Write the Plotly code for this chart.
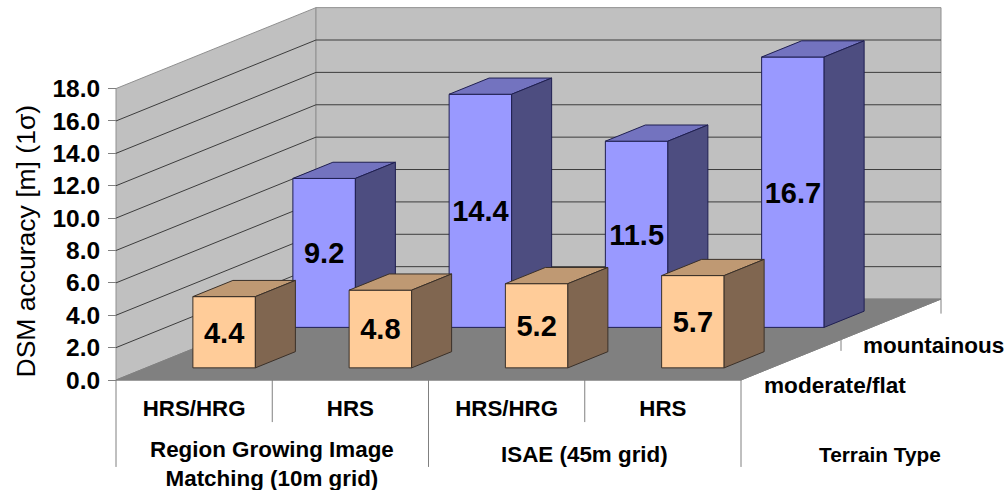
import plotly.graph_objects as go

methods = ["HRS/HRG", "HRS", "HRS/HRG", "HRS"]
moderate_flat = [4.4, 4.8, 5.2, 5.7]
mountainous = [9.2, 14.4, 11.5, 16.7]
y_ticks = [0, 2, 4, 6, 8, 10, 12, 14, 16, 18]
group_labels = ["Region Growing Image<br>Matching (10m grid)", "ISAE (45m grid)", "Terrain Type"]
depth_labels = ["moderate/flat", "mountainous"]

W, H = 1007, 490
X0, CAT = 116.0, 156.25      # pixel of category origin, pixels per category
Y0, UNIT = 380.0, 16.19      # pixel of value 0, pixels per value unit
DX, DY = 1.28, 5.0           # depth vector of the whole floor, in axis units
BAR_W, BAR_D = 0.40, 0.20
FONT = "Liberation Sans"
VMAX = y_ticks[-1]
N = len(methods)


def p(x, v, d):
    return x + DX * d, v + DY * d


def poly(pts, fill, line, width=1):
    xs, ys = zip(*[p(*q) for q in pts])
    return go.Scatter(x=list(xs) + [xs[0]], y=list(ys) + [ys[0]], mode="lines", fill="toself",
                      fillcolor=fill, line=dict(color=line, width=width), hoverinfo="skip")


def seg(pts, color, width=1):
    xs, ys = zip(*[p(*q) for q in pts])
    return go.Scatter(x=list(xs), y=list(ys), mode="lines", line=dict(color=color, width=width), hoverinfo="skip")


traces = []
# walls and floor
traces.append(poly([(0, 0, 0), (0, VMAX, 0), (0, VMAX, 1), (0, 0, 1)], "#C0C0C0", "#909090"))
traces.append(poly([(0, 0, 1), (0, VMAX, 1), (N, VMAX, 1), (N, 0, 1)], "#C0C0C0", "#909090"))
traces.append(poly([(0, 0, 0), (N, 0, 0), (N, 0, 1), (0, 0, 1)], "#808080", "#808080"))
# gridlines
for v in y_ticks[1:-1]:
    traces.append(seg([(0, v, 0), (0, v, 1), (N, v, 1)], "#3C3C3C", 1))
# frame lines below the floor
for i in range(N + 1):
    bottom = -5.37 if i % 2 == 0 else -2.6
    traces.append(seg([(i, 0, 0), (i, bottom, 0)], "#808080", 1))
traces.append(seg([(0, 0, 0), (N, 0, 0), (N, 0, 1), (N, -0.9, 1)], "#808080", 1))
traces.append(seg([(N, 0, 0.5), (N, -0.7, 0.5)], "#808080", 1))


def bar(i, value, depth, front, top, side, edge):
    x1, x2 = i + 0.5 - BAR_W / 2, i + 0.5 + BAR_W / 2
    d1, d2 = depth - BAR_D / 2, depth + BAR_D / 2
    traces.append(poly([(x1, 0, d1), (x2, 0, d1), (x2, value, d1), (x1, value, d1)], front, edge))
    traces.append(poly([(x1, value, d1), (x2, value, d1), (x2, value, d2), (x1, value, d2)], top, edge))
    traces.append(poly([(x2, 0, d1), (x2, 0, d2), (x2, value, d2), (x2, value, d1)], side, edge))


for i, v in enumerate(mountainous):
    bar(i, v, 0.75, "#9999FF", "#7373BF", "#4D4D80", "#1F1F50")
for i, v in enumerate(moderate_flat):
    bar(i, v, 0.25, "#FFCC99", "#BF9973", "#806650", "#3A3028")

# value labels, just below the middle of each front face
for values, depth in ((mountainous, 0.75), (moderate_flat, 0.25)):
    pts = [p(i + 0.5, v / 2 - 0.2, depth - BAR_D / 2) for i, v in enumerate(values)]
    traces.append(go.Scatter(x=[q[0] for q in pts], y=[q[1] for q in pts], mode="text",
                             text=[f"{v:.1f}" for v in values], hoverinfo="skip",
                             textfont=dict(family=FONT, size=29, color="black", weight="bold")))

fig = go.Figure(traces)

annotations = [
    dict(x=1.0, y=-3.42, text=group_labels[0], yanchor="top", size=22.4),
    dict(x=3.0, y=-4.6, text=group_labels[1], yanchor="middle", size=22.4),
    dict(x=(880 - X0) / CAT, y=-4.6, text=group_labels[2], yanchor="middle", size=20.8),
    dict(x=(834.5 - X0) / CAT, y=(Y0 - 385) / UNIT, text=depth_labels[0], yanchor="middle", size=22.6),
    dict(x=(933 - X0) / CAT, y=(Y0 - 345) / UNIT, text=depth_labels[1], yanchor="middle", size=22.5),
]
layout_annotations = [
    dict(x=a["x"], y=a["y"], xref="x", yref="y", text=a["text"], showarrow=False, align="center",
         xanchor="center", yanchor=a["yanchor"],
         font=dict(family=FONT, size=a["size"], color="black", weight="bold"))
    for a in annotations
]
layout_annotations.append(
    dict(x=25 / W, y=(Y0 - 241.5) / UNIT, xref="paper", yref="y", text="DSM accuracy [m] (1σ)", textangle=-90,
         showarrow=False, xanchor="center", yanchor="middle", font=dict(family=FONT, size=26.5, color="black"))
)

fig.update_layout(
    width=W, height=H, margin=dict(l=0, r=0, t=0, b=0), autosize=False,
    showlegend=False, paper_bgcolor="white", plot_bgcolor="white",
    font=dict(family=FONT, color="black"),
    annotations=layout_annotations,
    xaxis=dict(range=[-X0 / CAT, (W - X0) / CAT], anchor="free", position=(H - Y0) / H, showgrid=False, zeroline=False,
               showline=False, ticks="", tickmode="array", tickvals=[i + 0.5 for i in range(N)], ticktext=methods,
               ticklabelstandoff=13, tickfont=dict(family=FONT, size=22.3, color="black", weight="bold"), automargin=False),
    yaxis=dict(range=[(Y0 - H) / UNIT, Y0 / UNIT], anchor="free", position=X0 / W, showgrid=False, zeroline=False,
               showline=False, ticks="outside", ticklen=8, tickcolor="#808080", tickmode="array", tickvals=y_ticks,
               ticklabelstandoff=3, tickformat=".1f", tickfont=dict(family=FONT, size=24.5, color="black", weight="bold"),
               automargin=False),
)

fig.write_html("out.html", config={"displayModeBar": False}, post_script="document.body.style.margin='0';")
